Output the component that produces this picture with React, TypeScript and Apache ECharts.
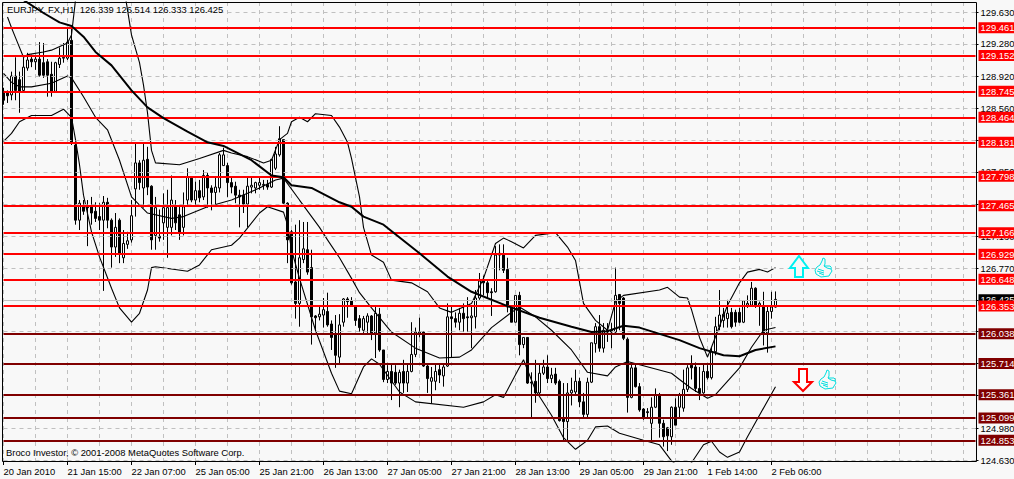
import React, { useEffect, useRef } from "react";
import * as echarts from "echarts";

const tickLabels = ["20 Jan 2010","21 Jan 15:00","22 Jan 07:00","25 Jan 05:00","25 Jan 21:00","26 Jan 13:00","27 Jan 05:00","27 Jan 21:00","28 Jan 13:00","29 Jan 05:00","29 Jan 21:00","1 Feb 14:00","2 Feb 06:00"];
const priceTicks = [129.63,129.28,128.92,128.56,128.2,127.85,127.49,127.13,126.77,126.42,126.07,125.71,125.35,124.98,124.63];
const priceLabels = [129.63,129.28,128.92,128.56,127.85,127.13,126.77,124.98,124.63];
const resistanceLevels = [129.461,129.152,128.745,128.464,128.181,127.798,127.465,127.166,126.929,126.648,126.353];
const supportLevels = [126.038,125.714,125.361,125.099,124.853];
const lastPrice = 126.425;

// open, close, low, high per hourly bar
const ohlc: number[][] = [
[128.75,128.65,128.60,128.79],[128.73,128.70,128.62,128.76],[128.71,128.92,128.65,128.97],[128.92,128.76,128.65,129.13],[128.88,128.75,128.51,128.97],[128.76,129.02,128.74,129.13],[129.01,129.10,128.98,129.18],[129.11,129.08,129.02,129.16],[129.08,129.11,128.99,129.16],[129.11,128.93,128.91,129.30],
[129.07,128.93,128.90,129.29],[129.08,128.93,128.69,129.11],[128.94,128.75,128.69,129.08],[128.75,129.07,128.74,129.08],[129.05,129.12,129.01,129.24],[129.12,129.13,129.07,129.29],[129.12,129.30,129.10,129.46],[129.32,128.17,128.15,129.46],[128.15,127.31,127.26,128.17],[127.31,127.50,127.20,127.535],
[127.46,127.41,127.37,127.535],[127.46,127.45,127.02,127.535],[127.46,127.39,127.26,127.57],[127.41,127.33,127.29,127.51],[127.35,127.31,127.20,127.50],[127.31,127.51,126.52,127.58],[127.51,127.31,127.22,127.56],[127.31,127.01,126.78,127.33],[127.01,127.23,126.90,127.39],[127.31,126.94,126.83,127.33],
[126.89,127.05,126.83,127.20],[127.04,127.08,126.99,127.18],[127.09,127.36,127.06,127.535],[127.66,127.95,127.35,128.17],[127.95,127.73,127.65,127.98],[127.67,127.98,127.45,128.18],[127.99,127.68,127.59,128.13],[127.69,127.09,126.98,127.70],[127.14,127.45,126.98,127.57],[127.13,127.11,127.07,127.43],
[127.28,127.45,127.09,127.61],[127.23,127.45,126.89,127.65],[127.23,127.535,127.14,127.81],[127.46,127.28,127.20,127.535],[127.37,127.17,127.09,127.48],[127.23,127.46,127.14,127.62],[127.535,127.79,127.46,127.89],[127.78,127.535,127.51,127.80],[127.535,127.64,127.46,127.74],[127.64,127.56,127.51,127.76],
[127.57,127.81,127.535,127.87],[127.81,127.67,127.45,127.84],[127.67,127.62,127.42,127.70],[127.62,127.68,127.46,127.79],[127.67,128.04,127.62,128.06],[127.92,128.04,127.92,128.12],[127.92,127.73,127.57,127.95],[127.73,127.68,127.61,127.79],[127.69,127.59,127.50,127.74],[127.59,127.57,127.23,127.65],
[127.59,127.49,127.39,127.65],[127.49,127.69,127.23,127.79],[127.68,127.70,127.61,127.79],[127.67,127.73,127.61,127.74],[127.70,127.73,127.65,127.79],[127.70,127.71,127.65,127.76],[127.71,127.68,127.65,127.76],[127.68,127.99,127.67,127.99],[127.89,128.05,127.87,128.13],[128.04,128.22,128.02,128.36],
[128.21,127.50,127.49,128.21],[127.50,127.09,126.83,127.51],[127.18,126.61,126.59,127.20],[126.62,126.38,126.21,127.26],[126.38,126.89,126.12,127.31],[126.87,126.99,126.83,127.29],[126.98,126.73,126.70,127.29],[126.78,126.23,125.92,126.98],[126.24,126.22,126.06,126.25],[126.23,126.26,126.19,126.36],
[126.25,126.31,126.11,126.44],[126.29,126.14,126.12,126.50],[126.15,126.00,125.86,126.19],[126.03,125.80,125.66,126.25],[125.78,126.14,125.70,126.26],[126.17,126.43,126.12,126.44],[126.43,126.40,126.22,126.45],[126.41,126.35,126.34,126.45],[126.35,126.19,126.13,126.36],[126.21,126.11,126.06,126.25],
[126.08,126.21,126.05,126.24],[126.17,126.24,126.05,126.27],[126.24,126.05,125.97,126.25],[126.05,126.27,125.77,126.34],[126.26,125.86,125.84,126.33],[125.86,125.53,125.50,125.86],[125.53,125.62,125.49,125.69],[125.62,125.49,125.30,125.71],[125.61,125.49,125.47,125.69],[125.49,125.61,125.22,125.64],
[125.62,125.49,125.38,125.75],[125.49,125.62,125.39,125.71],[125.62,125.81,125.61,126.17],[125.81,126.06,125.78,126.11],[126.04,126.06,126.00,126.22],[126.06,125.68,125.67,126.07],[125.68,125.54,125.38,125.71],[125.51,125.55,125.26,125.67],[125.51,125.62,125.41,125.70],[125.64,125.58,125.49,125.71],
[125.57,125.67,125.45,125.70],[125.68,126.23,125.67,126.38],[126.23,126.21,125.78,126.35],[126.21,126.17,126.11,126.28],[126.17,126.27,126.08,126.33],[126.27,126.21,126.06,126.38],[126.23,126.22,126.06,126.45],[126.22,126.24,125.88,126.34],[126.23,126.44,126.10,126.53],[126.44,126.63,126.42,126.72],
[126.64,126.61,126.47,126.69],[126.61,126.50,126.44,126.63],[126.51,126.50,126.24,126.55],[126.51,126.92,126.50,127.02],[126.92,126.94,126.75,127.04],[126.92,126.75,126.72,127.04],[126.76,126.34,126.28,126.89],[126.35,126.17,126.17,126.36],[126.17,126.47,126.17,126.47],[126.47,125.92,125.80,126.51],
[125.92,126.00,125.88,126.00],[126.00,125.49,125.48,126.00],[125.50,125.49,125.11,125.61],[125.51,125.38,125.27,125.75],[125.38,125.60,125.36,125.71],[125.60,125.67,125.58,125.75],[125.67,125.54,125.49,125.80],[125.54,125.58,125.49,125.66],[125.59,125.49,125.47,125.66],[125.51,125.07,125.06,125.53],
[125.10,125.06,124.85,125.49],[125.06,125.38,124.85,125.49],[125.38,125.41,125.24,125.55],[125.39,125.51,125.36,125.64],[125.51,125.28,125.22,125.55],[125.28,125.14,125.11,125.38],[125.14,125.50,125.11,125.55],[125.50,125.94,125.49,125.94],[125.93,126.12,125.83,126.16],[126.12,125.88,125.84,126.25],
[125.88,126.08,125.83,126.16],[126.06,126.08,125.95,126.16],[126.08,126.06,125.88,126.16],[126.06,126.47,126.05,126.78],[126.48,126.38,126.08,126.48],[126.44,125.99,125.97,126.45],[125.98,125.33,125.16,126.00],[125.33,125.66,125.32,125.71],[125.66,125.45,125.44,125.71],[125.45,125.19,125.17,125.49],
[125.20,125.11,125.08,125.21],[125.17,125.16,125.10,125.21],[125.04,125.22,124.85,125.33],[125.22,125.36,125.21,125.43],[125.36,125.04,124.88,125.38],[125.04,124.89,124.78,125.08],[124.99,124.90,124.73,125.00],[124.89,125.22,124.80,125.23],[125.22,125.02,125.02,125.32],[125.22,125.36,125.10,125.38],
[125.21,125.42,125.17,125.64],[125.42,125.66,125.39,125.69],[125.69,125.66,125.53,125.80],[125.67,125.43,125.39,125.72],[125.43,125.38,125.30,125.67],[125.38,125.62,125.37,125.71],[125.62,125.55,125.53,125.69],[125.55,125.84,125.53,125.89],[125.84,126.12,125.80,126.23],[126.12,126.25,126.08,126.53],
[126.19,126.26,126.11,126.33],[126.21,126.27,126.11,126.42],[126.28,126.12,126.10,126.33],[126.28,126.17,126.12,126.31],[126.28,126.17,126.16,126.33],[126.17,126.41,126.16,126.41],[126.36,126.38,126.33,126.47],[126.36,126.55,126.34,126.62],[126.55,126.36,126.33,126.56],[126.36,126.38,126.13,126.40],
[126.34,126.05,125.91,126.51],[126.05,126.29,125.83,126.36],[126.29,126.34,126.21,126.51],[126.339,126.425,126.333,126.514],
];

// bar index, value
const bbUpper: number[][] = [[1,129.58],[2,129.46],[3,129.35],[5,129.13],[6,129.16],[10,129.19],[12,129.21],[16,129.29],[17,129.38],[18,129.77],[20,129.99],[30,129.94],[31,129.66],[32,129.38],[34,129.07],[35,128.82],[36,128.51],[37,128.09],[38,127.95],[44,127.93],[49,128.00],[55,128.09],[57,128.06],[61,128.02],[65,127.95],[67,127.98],[69,128.21],[71,128.28],[72,128.41],[74,128.46],[76,128.41],[78,128.50],[82,128.48],[84,128.35],[86,128.18],[87,128.00],[89,127.57],[90,127.23],[92,126.92],[95,126.84],[97,126.64],[102,126.61],[106,126.51],[109,126.33],[112,126.28],[117,126.38],[120,126.66],[123,127.05],[125,127.11],[127,127.07],[130,127.00],[133,127.14],[138,127.17],[141,127.01],[143,126.86],[145,126.38],[148,126.19],[151,126.08],[153,126.40],[155,126.47],[164,126.53],[166,126.56],[169,126.45],[171,126.44],[172,126.31],[174,126.00],[176,125.78],[177,125.89],[181,126.36],[184,126.61],[186,126.73],[189,126.76],[191,126.73],[193,126.78]];
const bbMiddle: number[][] = [[0,128.95],[2,128.85],[4,128.80],[7,128.80],[12,128.84],[16,128.92],[17,128.90],[20,128.69],[23,128.46],[26,128.32],[29,127.98],[32,127.57],[36,127.39],[42,127.33],[45,127.35],[51,127.46],[57,127.535],[61,127.61],[64,127.67],[68,127.76],[70,127.78],[74,127.535],[79,127.23],[81,127.09],[84,126.89],[87,126.66],[89,126.50],[92,126.33],[97,126.06],[103,125.88],[109,125.77],[114,125.78],[117,125.86],[122,126.11],[127,126.28],[129,126.34],[133,126.23],[137,126.08],[142,125.86],[146,125.61],[151,125.57],[153,125.67],[156,125.73],[167,125.60],[169,125.53],[172,125.43],[176,125.32],[178,125.36],[184,125.66],[187,125.89],[190,126.08],[193,126.11]];
const bbLower: number[][] = [[0,128.19],[2,128.28],[4,128.41],[7,128.48],[12,128.48],[15,128.55],[17,128.46],[18,128.21],[19,127.93],[20,127.59],[22,127.18],[24,126.90],[27,126.55],[29,126.33],[32,126.17],[34,126.27],[36,126.53],[37,126.78],[38,126.79],[46,126.74],[49,126.81],[52,126.98],[57,127.03],[59,127.11],[64,127.39],[66,127.46],[70,127.40],[71,127.26],[72,126.98],[74,126.66],[78,126.08],[82,125.60],[84,125.40],[87,125.37],[90,125.67],[92,125.76],[94,125.70],[99,125.39],[103,125.28],[115,125.22],[120,125.28],[123,125.36],[125,125.33],[130,125.75],[133,125.41],[137,125.13],[140,124.88],[143,124.75],[146,124.85],[148,125.00],[151,125.01],[154,124.93],[160,124.85],[164,124.80],[167,124.62],[170,124.52],[172,124.60],[175,124.80],[177,124.84],[179,124.72],[181,124.66],[184,124.72],[186,124.89],[193,125.45]];
const movingAverage: number[][] = [[5,129.77],[10,129.625],[14,129.52],[17,129.48],[20,129.36],[23,129.19],[27,129.04],[32,128.76],[36,128.57],[40,128.45],[46,128.30],[51,128.18],[55,128.14],[62,127.98],[67,127.81],[70,127.79],[72,127.70],[77,127.67],[84,127.51],[87,127.46],[90,127.35],[95,127.26],[104,126.94],[111,126.68],[117,126.51],[126,126.35],[134,126.22],[142,126.12],[147,126.06],[151,126.07],[155,126.13],[159,126.11],[169,125.97],[174,125.88],[180,125.80],[184,125.79],[188,125.86],[193,125.90]];

const BAR_SLOTS = 244;
const categories = Array.from({ length: BAR_SLOTS }, (_, i) => (i % 16 === 0 && tickLabels[i / 16]) || String(i));
const FONT = "Liberation Sans";
const FONT_SIZE = 9.4;

const THUMB = "M8,0 L10,1 L10,6 L9,8 L15,8 Q17,9 16,11 L17,13 L15,16 L14,18 L6,19 L1,16 L0,12 L2,9 L5,7 L7,3 Z M3,11 L9,13 M2,13 L9,15 M4,15 L9,17 M9,8 L12,10 L16,11";
const arrowUp = [[799,256],[808,268],[803,268],[803,277],[795,277],[795,268],[790,268]];
const arrowDown = [[799,369],[807,369],[807,382],[812,382],[803,391],[794,382],[799,382]];

function levelEntry(value: number, color: string) {
  return {
    yAxis: value,
    lineStyle: { color, width: 2, type: "solid" },
    label: {
      show: true,
      position: "end",
      distance: 3,
      formatter: value.toFixed(3),
      color: "#ffffff",
      backgroundColor: color,
      padding: [1, 2, 1, 2],
      fontFamily: FONT,
      fontSize: FONT_SIZE,
    },
  };
}

export default function App() {
  const ref = useRef<HTMLDivElement>(null);
  useEffect(() => {
    document.body.style.margin = "0";
    echarts.graphic.registerShape("thumb", echarts.graphic.extendPath(THUMB, {}));
    const chart = echarts.init(ref.current!, undefined, { renderer: "svg" });
    const thin = (name: string, data: number[][]) => ({
      name, type: "line", data, showSymbol: false, symbol: "none", z: 4, smooth: false,
      lineStyle: { color: "#000", width: 1.1 },
    });
    chart.setOption({
      animation: false,
      backgroundColor: "#f8f8f8",
      grid: { left: 3.5, right: 38.5, top: 2, height: 460, containLabel: false, outerBoundsMode: "none" },
      xAxis: {
        type: "category",
        data: categories,
        boundaryGap: false,
        axisLine: { show: false },
        axisTick: { show: true, length: 3, interval: (i: number) => i % 16 === 0 && i <= 192, lineStyle: { color: "#000" } },
        axisLabel: {
          show: true, interval: (i: number) => i % 16 === 0 && i <= 192,
          align: "left", margin: 5, color: "#000", fontFamily: FONT, fontSize: FONT_SIZE,
          hideOverlap: false,
        },
        splitLine: { show: true, interval: (i: number) => i % 8 === 0, lineStyle: { color: "#c0c0c0", type: [4, 4], width: 1 } },
      },
      yAxis: {
        type: "value",
        position: "right",
        min: 124.608,
        max: 129.748,
        scale: true,
        splitLine: { show: false },
        axisLine: { show: false },
        axisTick: { show: true, length: 3, customValues: priceTicks, lineStyle: { color: "#000" } },
        axisLabel: {
          show: true, customValues: priceLabels, margin: 5, color: "#000", fontFamily: FONT, fontSize: FONT_SIZE,
          formatter: (v: number) => v.toFixed(3),
        },
      },
      series: [
        {
          name: "grid", type: "line", data: [], z: 1,
          markLine: {
            silent: true, symbol: "none", animation: false,
            label: { show: false },
            lineStyle: { color: "#c0c0c0", type: [4, 4], width: 1 },
            data: priceTicks.map((v) => ({ yAxis: v })),
          },
        },
        {
          name: "EURJPY", type: "candlestick", data: ohlc, barWidth: 2, clip: false, z: 3,
          itemStyle: { color: "#ffffff", color0: "#000000", borderColor: "#000000", borderColor0: "#000000", borderWidth: 1 },
        },
        thin("BB upper", bbUpper),
        thin("BB middle", bbMiddle),
        thin("BB lower", bbLower),
        {
          name: "MA", type: "line", data: movingAverage, showSymbol: false, symbol: "none", z: 5,
          lineStyle: { color: "#000", width: 2 },
        },
        {
          name: "last", type: "line", data: [], z: 6,
          markLine: {
            silent: true, symbol: "none", animation: false,
            data: [{
              yAxis: lastPrice,
              lineStyle: { color: "#c0c0c0", type: "solid", width: 1 },
              label: { show: true, position: "end", distance: 3, formatter: lastPrice.toFixed(3), color: "#fff", backgroundColor: "#000", padding: [1, 2, 1, 2], fontFamily: FONT, fontSize: FONT_SIZE },
            }],
          },
        },
        {
          name: "levels", type: "line", data: [], z: 7,
          markLine: {
            silent: true, symbol: "none", animation: false,
            data: [
              ...resistanceLevels.map((v) => levelEntry(v, "#ff0000")),
              ...supportLevels.map((v) => levelEntry(v, "#800000")),
            ],
          },
        },
      ],
      graphic: [
        { type: "rect", z: 50, silent: true, shape: { x: 2.5, y: 2.5, width: 974, height: 459 }, style: { fill: "none", stroke: "#000", lineWidth: 1 } },
        { type: "text", z: 60, silent: true, x: 7, y: 5, style: { text: "EURJPY, FX,H1  126.339 126.514 126.333 126.425", fill: "#000", font: `${FONT_SIZE}px "${FONT}"` } },
        { type: "text", z: 60, silent: true, x: 6, y: 448, style: { text: "Broco Investor, © 2001-2008 MetaQuotes Software Corp.", fill: "#000", font: `${FONT_SIZE}px "${FONT}"` } },
        { type: "polygon", z: 60, silent: true, shape: { points: arrowUp }, style: { fill: "#f8f8f8", stroke: "#00f0f0", lineWidth: 2 } },
        { type: "polygon", z: 60, silent: true, shape: { points: arrowDown }, style: { fill: "#ffffff", stroke: "#ff0000", lineWidth: 2 } },
        { type: "thumb", z: 60, silent: true, x: 815, y: 258, style: { fill: "#f8f8f8", stroke: "#00e0e0", lineWidth: 1 } },
        { type: "thumb", z: 60, silent: true, x: 819, y: 370, style: { fill: "#f8f8f8", stroke: "#00e0e0", lineWidth: 1 } },
      ],
    });
    return () => chart.dispose();
  }, []);
  return <div ref={ref} style={{ width: 1014, height: 479 }} />;
}
